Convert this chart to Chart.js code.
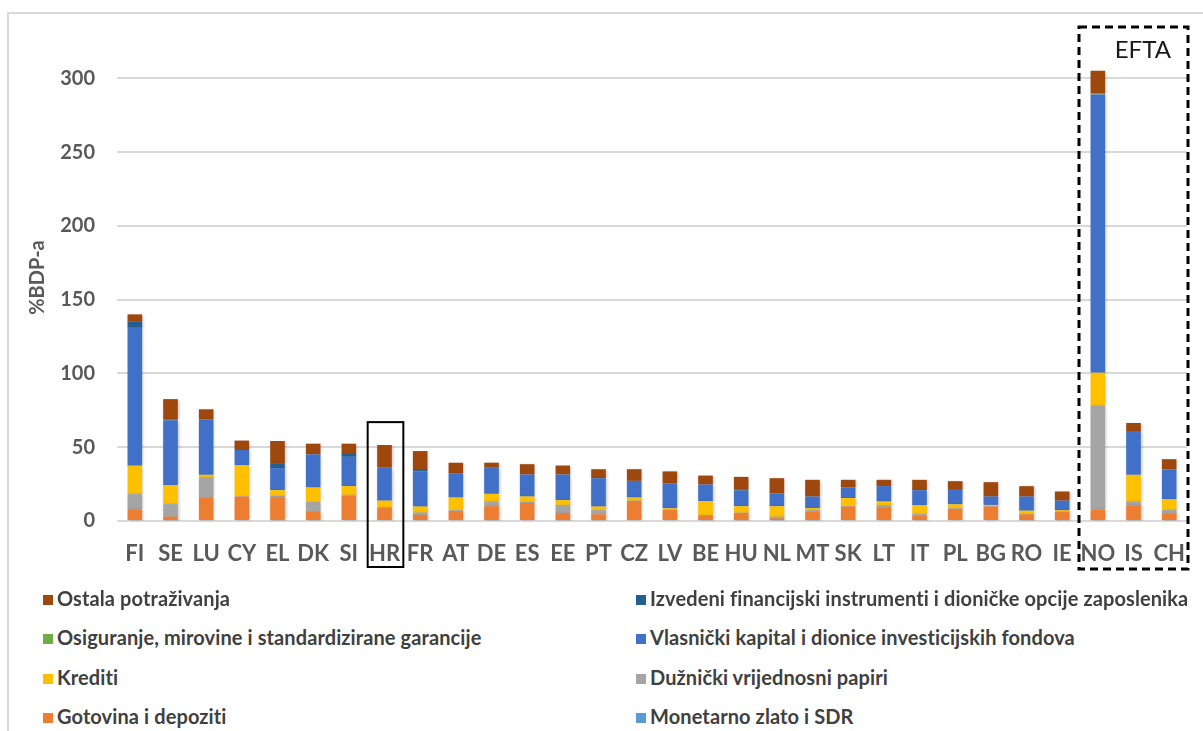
<!DOCTYPE html>
<html>
<head>
<meta charset="utf-8">
<script src="https://cdn.jsdelivr.net/npm/chart.js@4/dist/chart.umd.min.js"></script>
<style>
	body { margin: 0; background: #fff; font-family: Lato, sans-serif; }
	#wrap { position: relative; width: 1203px; height: 731px; overflow: hidden; }
	#frame { position: absolute; left: 7px; top: 12px; width: 1300px; height: 800px; border-left: 2px solid #d9d9d9; border-top: 2px solid #d9d9d9; }
	#myChart { position: absolute; left: 0; top: 0; }
	.leg { position: absolute; font-size: 20px; font-weight: bold; color: #404040; white-space: nowrap; line-height: 20px; letter-spacing: 0.1px; }
	.leg i { display: inline-block; width: 10px; height: 10px; margin-right: 4px; vertical-align: 1px; }
</style>
</head>
<body>
<div id="wrap">
	<div id="frame"></div>
	<canvas id="myChart" width="1203" height="600"></canvas>
	<div id="legend"></div>
</div>
<script>
var countries = ['FI','SE','LU','CY','EL','DK','SI','HR','FR','AT','DE','ES','EE','PT','CZ','LV','BE','HU','NL','MT','SK','LT','IT','PL','BG','RO','IE','NO','IS','CH'];

// vrijednosti u % BDP-a, procijenjene s grafikona
var monetarno = [0,0,0,0,0,0,0,0,0,0,0,0,0,0,0,0,0,0,0,0,0,0,0,0,0,0,0,0,0,0];
var gotovina = [8, 3, 15.6, 16.6, 16.1, 6.1, 17, 9.1, 4.1, 6.8, 10, 12.2, 5.4, 4.5, 13.6, 7.7, 3.9, 5.4, 1.8, 6.3, 9.8, 8.8, 3.6, 8.2, 9.8, 4.5, 6.3, 7.9, 10.7, 5.2];
var duznicki = [10.7, 8.4, 14.1, 0.3, 0.9, 7.1, 0.7, 0.4, 1.6, 0.5, 3.4, 0.7, 5.5, 2.8, 0.2, 0.2, 0.2, 0.2, 1.1, 1, 0.4, 1.9, 1.2, 0.4, 0.4, 0.2, 0.2, 70.6, 2.7, 2.3];
var krediti = [18.8, 13, 1.6, 20.8, 3.9, 9.5, 5.9, 4.3, 4.1, 8.6, 5, 3.7, 3.2, 2.5, 2.1, 0.7, 9.3, 4.4, 7.1, 1.5, 5.4, 2.5, 5.9, 2.7, 0.7, 2.3, 0.8, 22, 17.9, 7.2];
var vlasnicki = [93.4, 43.7, 37.6, 10.4, 14.9, 22.4, 19.9, 22.3, 23.8, 16.5, 17.7, 14.9, 17.4, 19.2, 11.3, 17, 11.3, 10.6, 8.6, 7.8, 7.1, 10.4, 10.2, 9.8, 5.7, 9.6, 6.5, 188.5, 29.7, 20.2];
var osiguranje = [0,0,0,0,0,0,0,0,0,0,0,0,0,0,0,0,0,0,0,0,0,0,0,0,0,0,0,0.6,0,0];
var izvedeni = [4.1, 0.7, 0, 0, 3.4, 0, 1.9, 0.4, 0.9, 0, 0, 0, 0, 0, 0, 0, 0, 0.9, 0, 0, 0, 0, 0, 0, 0, 0, 0, 0, 0, 0];
var ostala = [5, 13.8, 6.8, 6.4, 15, 7.3, 7, 15, 12.9, 7.1, 3.4, 7, 6.1, 6.1, 7.9, 8, 6.1, 8.4, 10.4, 11.3, 5.2, 4.3, 7, 5.9, 9.7, 7, 6.2, 15.5, 5.4, 7];

var yTicks = [0, 50, 100, 150, 200, 250, 300];

var series = [
	{ label: 'Monetarno zlato i SDR', data: monetarno, color: '#5B9BD5' },
	{ label: 'Gotovina i depoziti', data: gotovina, color: '#ED7D31' },
	{ label: 'Dužnički vrijednosni papiri', data: duznicki, color: '#A5A5A5' },
	{ label: 'Krediti', data: krediti, color: '#FFC000' },
	{ label: 'Vlasnički kapital i dionice investicijskih fondova', data: vlasnicki, color: '#4070C8' },
	{ label: 'Osiguranje, mirovine i standardizirane garancije', data: osiguranje, color: '#70AD47' },
	{ label: 'Izvedeni financijski instrumenti i dioničke opcije zaposlenika', data: izvedeni, color: '#255E91' },
	{ label: 'Ostala potraživanja', data: ostala, color: '#9E480E' }
];

// lagana sjena ispod stupaca kao u Excelu
var shadow = {
	id: 'shadow',
	beforeDatasetsDraw: function(chart) {
		var ctx = chart.ctx;
		ctx.save();
		ctx.shadowColor = 'rgba(0,0,0,0.25)';
		ctx.shadowBlur = 3;
		ctx.shadowOffsetX = 1;
		ctx.shadowOffsetY = 1;
	},
	afterDatasetsDraw: function(chart) {
		chart.ctx.restore();
	}
};

// okviri oko HR i EFTA zemalja
var boxes = {
	id: 'boxes',
	afterDraw: function(chart) {
		var ctx = chart.ctx, x = chart.scales.x, y = chart.scales.y, area = chart.chartArea;
		var step = x.getPixelForValue(1) - x.getPixelForValue(0);
		var zero = y.getPixelForValue(0);
		ctx.save();
		ctx.strokeStyle = '#000';
		ctx.lineWidth = 2;
		var hr = x.getPixelForValue(countries.indexOf('HR'));
		ctx.strokeRect(hr - step / 2 + 1, y.getPixelForValue(67), step, zero + 46 - y.getPixelForValue(67));

		var no = x.getPixelForValue(countries.indexOf('NO'));
		ctx.lineWidth = 3;
		ctx.setLineDash([8, 5]);
		ctx.strokeRect(no - step / 2 - 1, area.top - 7, area.right + 1 - (no - step / 2 - 1), zero + 48 - area.top + 7);
		ctx.setLineDash([]);
		ctx.fillStyle = '#1a1a1a';
		ctx.font = '24px Lato';
		ctx.textAlign = 'center';
		ctx.textBaseline = 'middle';
		ctx.fillText('EFTA', no + 45, area.top + 16);
		ctx.restore();
	}
};

var chart = new Chart(document.getElementById('myChart').getContext('2d'), {
	type: 'bar',
	data: {
		labels: countries,
		datasets: series.map(function(s) {
			return {
				label: s.label,
				data: s.data,
				backgroundColor: s.color,
				borderWidth: 0,
				barPercentage: 0.41,
				categoryPercentage: 1
			};
		})
	},
	options: {
		responsive: false,
		animation: false,
		layout: { padding: { left: 22, right: 16, top: 31, bottom: 20 } },
		plugins: {
			legend: { display: false },
			tooltip: { enabled: false }
		},
		scales: {
			x: {
				stacked: true,
				grid: { display: false },
				border: { display: false },
				ticks: { color: '#595959', font: { family: 'Lato', size: 22, weight: 'bold' }, padding: 12, maxRotation: 0, autoSkip: false },
				afterFit: function(scale) { scale.height = 59; }
			},
			y: {
				stacked: true,
				min: 0,
				max: 330,
				afterBuildTicks: function(scale) {
					scale.ticks = yTicks.map(function(v) { return { value: v }; });
				},
				grid: { color: '#d9d9d9', lineWidth: 2, drawTicks: false },
				border: { display: false },
				ticks: { color: '#595959', font: { family: 'Lato', size: 20, weight: 'bold' }, padding: 22 },
				title: { display: true, text: '%BDP-a', color: '#595959', font: { family: 'Lato', size: 20, weight: 'bold' }, padding: { top: 4, bottom: 4 } },
				afterFit: function(scale) { scale.width = 95; }
			}
		}
	},
	plugins: [shadow, boxes]
});

// legenda u dva stupca, redoslijed kao na izvorniku
var legendOrder = [7, 6, 5, 4, 3, 2, 1, 0];
var rowsY = [588, 627, 667, 706];
var html = '';
legendOrder.forEach(function(idx, i) {
	var s = series[idx];
	var left = (i % 2 == 0) ? 43 : 636;
	var top = rowsY[Math.floor(i / 2)];
	html += '<div class="leg" style="left:' + left + 'px;top:' + top + 'px"><i style="background:' + s.color + '"></i>' + s.label + '</div>';
});
document.getElementById('legend').innerHTML = html;
</script>
</body>
</html>
